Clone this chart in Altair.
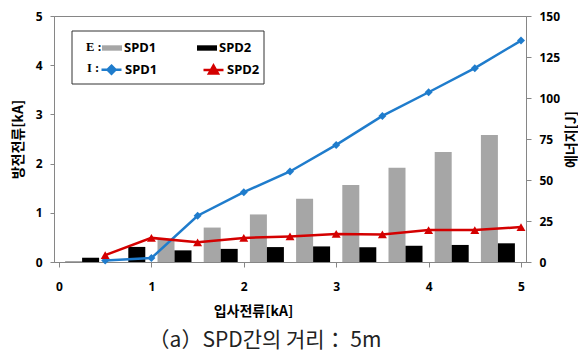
import altair as alt
import pandas as pd

# incident current [kA]
current = [0.5, 1.0, 1.5, 2.0, 2.5, 3.0, 3.5, 4.0, 4.5, 5.0]
# discharge current [kA]
i_spd1 = [0.03, 0.08, 0.94, 1.42, 1.84, 2.38, 2.97, 3.45, 3.94, 4.50]
i_spd2 = [0.14, 0.49, 0.40, 0.49, 0.52, 0.57, 0.56, 0.65, 0.65, 0.71]
# energy [J]
e_spd1 = [0.6, 0.0, 14.0, 21.0, 29.0, 38.5, 47.0, 57.5, 67.0, 77.4]
e_spd2 = [2.6, 9.2, 7.1, 8.0, 9.1, 9.5, 9.0, 9.9, 10.4, 11.4]
e_series = ["E:SPD1", "E:SPD2"]
i_series = ["I:SPD1", "I:SPD2"]
x_ticks = [0, 1, 2, 3, 4, 5]
left_ticks = [0, 1, 2, 3, 4, 5]
right_ticks = [0, 25, 50, 75, 100, 125, 150]

df_e = pd.DataFrame({
    "current": current * 2,
    "e_spd": [e_series[0]] * len(current) + [e_series[1]] * len(current),
    "energy": e_spd1 + e_spd2,
})
df_i = pd.DataFrame({
    "current": current * 2,
    "i_spd": [i_series[0]] * len(current) + [i_series[1]] * len(current),
    "ka": i_spd1 + i_spd2,
})

BLUE = "#1f7ccc"
RED = "#d40000"
GRAY_AX = "#868686"

x_axis = alt.Axis(values=x_ticks, title="입사전류[kA]", tickSize=5, labelPadding=14,
                  titleX=199, titleY=42, titleBaseline="top", titleFontSize=14)
x_scale = alt.Scale(domain=[0, 5], nice=False)

legend_common = dict(orient="none", direction="horizontal", columns=2, columnPadding=40,
                     titleOrient="left", titleFont="Liberation Serif", titleFontSize=12.5,
                     titleFontWeight="bold", titleColor="#000", titlePadding=0,
                     labelFont="Noto Sans", labelFontSize=13, labelFontWeight="bold",
                     labelColor="#000", labelOffset=2, symbolSize=400, padding=0,
                     labelExpr="slice(datum.label, 2)")

bar_color = alt.Color(
    "e_spd:N",
    scale=alt.Scale(domain=e_series, range=["#a6a6a6", "#000000"]),
    legend=alt.Legend(title="E :", legendX=32, legendY=22,
                      symbolType="M-1,-0.27H1V0.27H-1Z", symbolStrokeWidth=0,
                      **legend_common),
)
e_y = alt.Y("energy:Q", scale=alt.Scale(domain=[0, 150], nice=False),
            axis=alt.Axis(orient="right", values=right_ticks, title="에너지[J]",
                          tickSize=5, labelPadding=8, titleAngle=270, titleX=45,
                          titleY=123, titleBaseline="middle", titleFontSize=14))

bar_base = alt.Chart(df_e).transform_calculate(xc="datum.current - 0.25")
bar1 = bar_base.transform_filter(alt.datum.e_spd == e_series[0]).mark_bar(
    size=17, xOffset=-8.5, orient="vertical").encode(
    x=alt.X("xc:Q", scale=x_scale, axis=x_axis), y=e_y.stack(None), color=bar_color)
bar2 = bar_base.transform_filter(alt.datum.e_spd == e_series[1]).mark_bar(
    size=17, xOffset=8.5, orient="vertical").encode(
    x=alt.X("xc:Q", scale=x_scale, axis=x_axis), y=e_y.stack(None), color=bar_color)
bars = alt.layer(bar1, bar2)

i_y = alt.Y("ka:Q", scale=alt.Scale(domain=[0, 5], nice=False),
            axis=alt.Axis(orient="left", values=left_ticks, title="방전전류[kA]",
                          tickSize=4, labelPadding=8, titleAngle=270, titleX=-36,
                          titleY=123, titleBaseline="middle", titleFontSize=14))
i_x = alt.X("current:Q", scale=x_scale, axis=x_axis)

line_base = alt.Chart(df_i)
l1 = line_base.transform_filter(alt.datum.i_spd == i_series[0]).mark_line(
    color=BLUE, strokeWidth=2.5).encode(x=i_x, y=i_y)
p1 = line_base.transform_filter(alt.datum.i_spd == i_series[0]).mark_point(
    shape="diamond", filled=True, color=BLUE, size=64, opacity=1).encode(x=i_x, y=i_y)
l2 = line_base.transform_filter(alt.datum.i_spd == i_series[1]).mark_line(
    color=RED, strokeWidth=2.5).encode(x=i_x, y=i_y)
p2 = line_base.transform_filter(alt.datum.i_spd == i_series[1]).mark_point(
    shape="triangle-up", filled=True, color=RED, size=80, opacity=1).encode(x=i_x, y=i_y)

i_legend = alt.Legend(title="I :", legendX=33, legendY=42, symbolStrokeWidth=2.5,
                      **legend_common)
legend_layer = line_base.transform_filter("false").mark_point(
    filled=True, strokeWidth=2.5, opacity=1).encode(
    fill=alt.Fill("i_spd:N", scale=alt.Scale(domain=i_series, range=[BLUE, RED]), legend=i_legend),
    stroke=alt.Stroke("i_spd:N", scale=alt.Scale(domain=i_series, range=[BLUE, RED]), legend=i_legend),
    shape=alt.Shape("i_spd:N", scale=alt.Scale(
        domain=i_series,
        range=["M-1,0H1M0,-0.4L0.4,0L0,0.4L-0.4,0Z",
               "M-1,0H1M0,-0.45L0.45,0.35H-0.45Z"]), legend=i_legend),
)
lines = alt.layer(l1, p1, l2, p2, legend_layer)

box = alt.Chart(pd.DataFrame({"k": [0]})).mark_rect(
    fill="white", fillOpacity=0, stroke="#333333", strokeWidth=1).encode(
    x=alt.value(18), x2=alt.value(210), y=alt.value(15), y2=alt.value(68))

chart = alt.layer(bars, lines, box).resolve_scale(
    y="independent"
).properties(
    width=472, height=246,
    autosize=alt.AutoSizeParams(type="none"),
    padding={"left": 46, "top": 8, "right": 52, "bottom": 90},
    title=alt.TitleParams("（a）SPD간의 거리： 5m", orient="bottom", anchor="middle",
                          frame="group", dx=-25, offset=12, fontSize=21,
                          fontWeight="normal", font="Noto Sans CJK KR", color="#222222"),
).configure_axis(
    domainColor=GRAY_AX, tickColor=GRAY_AX, grid=False,
    labelFont="Noto Sans", labelFontWeight="bold", labelFontSize=12, labelColor="#000",
    titleFont="Noto Sans CJK KR", titleFontWeight="bold", titleColor="#000",
).configure_view(stroke=GRAY_AX, strokeWidth=1)

chart.save("out.html", embed_options={"renderer": "svg", "actions": False})
